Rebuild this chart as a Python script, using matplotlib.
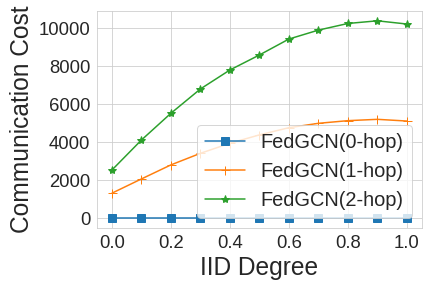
import numpy as np
import matplotlib
matplotlib.use("Agg")
import matplotlib.pyplot as plt
import seaborn as sns

sns.set_style("whitegrid")
plt.rcParams['font.family'] = ['Liberation Sans', 'DejaVu Sans']

# IID degree vs communication cost
iid = [0.0, 0.1, 0.2, 0.3, 0.4, 0.5, 0.6, 0.7, 0.8, 0.9, 1.0]
cost_0hop = [0, 0, 0, 0, 0, 0, 0, 0, 0, 0, 0]
cost_1hop = [1320, 2070, 2810, 3420, 3950, 4390, 4770, 5000, 5140, 5210, 5120]
cost_2hop = [2540, 4120, 5530, 6810, 7810, 8600, 9440, 9910, 10260, 10400, 10230]

fig, ax = plt.subplots(figsize=(6, 4), dpi=72)

ax.plot(iid, cost_0hop, marker='s', markersize=8, label='FedGCN(0-hop)')
ax.plot(iid, cost_1hop, marker='+', markersize=9, label='FedGCN(1-hop)')
ax.plot(iid, cost_2hop, marker='*', markersize=8.5, label='FedGCN(2-hop)')

ax.set_xticks([0.0, 0.2, 0.4, 0.6, 0.8, 1.0])
ax.set_yticks([0, 2000, 4000, 6000, 8000, 10000])
ax.set_xlabel('IID Degree', fontsize=24.5)
ax.set_ylabel('Communication Cost', fontsize=24.5)
ax.tick_params(labelsize=18.5)
ax.legend(fontsize=20, loc='lower right')

fig.subplots_adjust(left=0.225, right=0.976, top=0.962, bottom=0.208)
plt.savefig('out.png', dpi=72)
